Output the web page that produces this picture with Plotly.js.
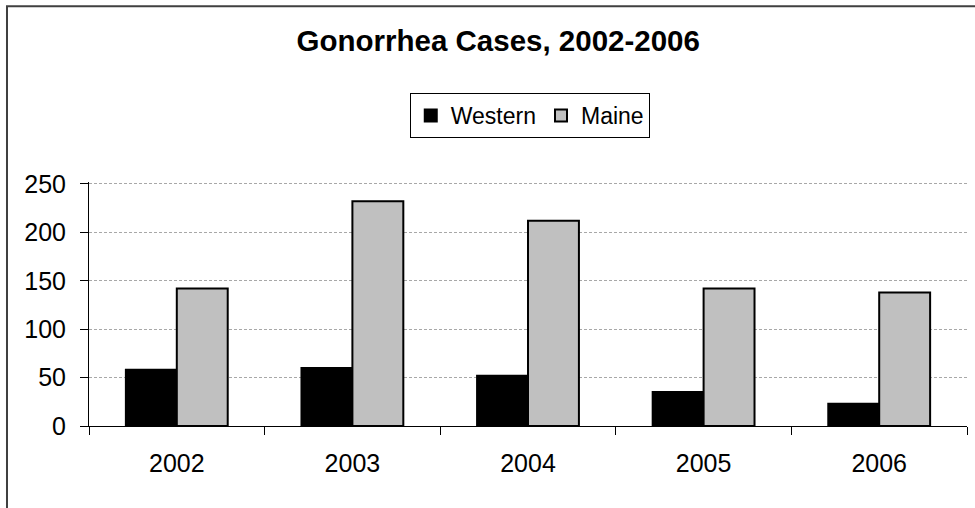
<!DOCTYPE html>
<html>
<head>
<meta charset="utf-8">
<script src="https://cdn.plot.ly/plotly-3.0.1.min.js"></script>
<style>html,body{margin:0;padding:0;background:#fff;}#chart{width:975px;height:508px;}</style>
</head>
<body>
<div id="chart"></div>
<script>
const years = ['2002', '2003', '2004', '2005', '2006'];
const western = [58, 60, 52, 35, 23];
const maine = [142, 232, 212, 142, 138];
const seriesNames = ['Western', 'Maine'];
const yTicks = [0, 50, 100, 150, 200, 250];

const FONT = 'Liberation Sans, Arial, sans-serif';

const traces = [
  {
    type: 'bar', name: seriesNames[0], x: years, y: western,
    marker: {color: '#000000', line: {color: '#000000', width: 2}}
  },
  {
    type: 'bar', name: seriesNames[1], x: years, y: maine,
    marker: {color: '#C0C0C0', line: {color: '#000000', width: 2}}
  }
];

const layout = {
  width: 975, height: 508,
  margin: {l: 89, r: 8, t: 182, b: 82, pad: 0},
  paper_bgcolor: '#ffffff', plot_bgcolor: '#ffffff',
  font: {family: FONT, color: '#000000', size: 24},
  title: {
    text: 'Gonorrhea Cases, 2002-2006',
    font: {family: FONT, size: 29.5, color: '#000000', weight: 'bold'},
    xref: 'container', x: 0.511, xanchor: 'center',
    yref: 'container', y: 1 - 41 / 508, yanchor: 'middle'
  },
  barmode: 'group', bargap: 0.42, bargroupgap: 0,
  showlegend: true,
  legend: {
    orientation: 'h', x: 0.502, xanchor: 'center', y: 1.365, yanchor: 'top',
    bordercolor: '#000000', borderwidth: 1, bgcolor: '#ffffff',
    font: {family: FONT, size: 23, color: '#000000'},
    traceorder: 'normal', itemwidth: 30
  },
  xaxis: {
    type: 'category', showline: true, linecolor: '#000000', linewidth: 1,
    ticks: 'outside', tickson: 'boundaries', ticklen: 8, tickcolor: '#000000',
    tickfont: {family: FONT, size: 25, color: '#000000'},
    ticklabelstandoff: 15,
    showgrid: false, zeroline: false, fixedrange: true
  },
  yaxis: {
    range: [0, 252], tickvals: yTicks, ticktext: yTicks.map(String),
    showline: true, linecolor: '#000000', linewidth: 1,
    ticks: 'outside', ticklen: 8, tickcolor: '#000000',
    tickfont: {family: FONT, size: 25, color: '#000000'},
    ticklabelstandoff: 9,
    showgrid: true, gridcolor: '#a8a8a8', gridwidth: 1, griddash: '3px,2px',
    zeroline: false, fixedrange: true
  },
  shapes: [
    {type: 'rect', xref: 'paper', yref: 'paper', x0: -0.0934, x1: 1.05, y0: -0.45, y1: 1.72,
     line: {color: '#404040', width: 2}, fillcolor: 'rgba(0,0,0,0)', layer: 'below'}
  ]
};

Plotly.newPlot('chart', traces, layout, {displayModeBar: false, staticPlot: true});
</script>
</body>
</html>
